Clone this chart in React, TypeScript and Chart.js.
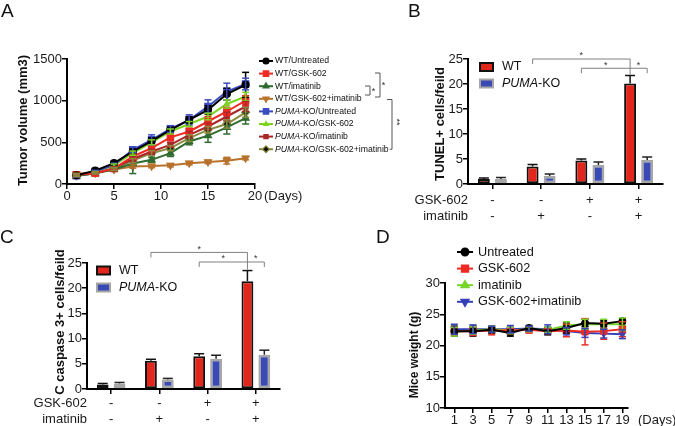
import React, { useEffect, useRef } from "react";
import { Chart, registerables } from "chart.js";
import { drawPoint } from "chart.js/helpers";

Chart.register(...registerables);

const W = 675;
const H = 426;
const FONT = "'Liberation Sans', Arial, Helvetica, sans-serif";
const XH = 46;

// ---------------- Panel A: tumor volume ----------------
const daysA = [1, 3, 5, 7, 9, 11, 13, 15, 17, 19];
const aNames = [
  "WT/Untreated",
  "WT/GSK-602",
  "WT/imatinib",
  "WT/GSK-602+imatinib",
  "PUMA-KO/Untreated",
  "PUMA-KO/GSK-602",
  "PUMA-KO/imatinib",
  "PUMA-KO/GSK-602+imatinib",
];
const aWTUntreated = [105, 160, 250, 390, 515, 650, 770, 890, 1080, 1190];
const aWTGsk = [110, 130, 185, 330, 430, 560, 630, 750, 870, 1000];
const aWTIma = [95, 130, 175, 245, 290, 370, 510, 580, 680, 790];
const aWTGskIma = [120, 140, 175, 210, 215, 225, 250, 265, 280, 310];
const aKOUntreated = [100, 150, 230, 410, 530, 660, 770, 930, 1110, 1200];
const aKOGsk = [105, 140, 225, 370, 500, 630, 720, 810, 960, 1050];
const aKOIma = [100, 130, 190, 300, 390, 470, 590, 690, 810, 930];
const aKOGskIma = [100, 130, 180, 280, 370, 430, 550, 650, 720, 860];
const aErrWTUntreated = [15, 15, 20, 30, 40, 40, 40, 50, 70, 150];
const aErrWTGsk = [10, 15, 20, 30, 40, 40, 40, 60, 50, 60];
const aErrWTIma = [10, 10, 15, 120, 30, 40, 40, 80, 80, 70];
const aErrWTGskIma = [10, 10, 10, 20, 20, 20, 20, 20, 40, 20];
const aErrKOUntreated = [15, 15, 20, 30, 60, 40, 60, 80, 100, 70];
const aErrKOGsk = [10, 10, 15, 25, 30, 30, 30, 40, 50, 50];
const aErrKOIma = [10, 10, 15, 25, 30, 30, 40, 40, 50, 60];
const aErrKOGskIma = [10, 10, 15, 25, 30, 30, 40, 40, 50, 60];
const aTicks = [0, 500, 1000, 1500];

// ---------------- Panel B: TUNEL ----------------
const gskRow = ["-", "-", "+", "+"];
const imaRow = ["-", "+", "-", "+"];
const bWT = [1.0, 3.5, 4.7, 20.1];
const bKO = [1.0, 1.6, 3.8, 4.8];
const bWTErr = [0.2, 0.4, 0.3, 1.6];
const bKOErr = [0.3, 0.4, 0.6, 0.6];

// ---------------- Panel C: cleaved caspase 3 ----------------
const cWT = [0.9, 5.6, 6.5, 21.4];
const cKO = [1.1, 1.9, 6.0, 6.8];
const cWTErr = [0.2, 0.3, 0.5, 2.1];
const cKOErr = [0.2, 0.2, 0.7, 0.9];

// ---------------- Panel D: mice weight ----------------
const daysD = [1, 3, 5, 7, 9, 11, 13, 15, 17, 19];
const dNames = ["Untreated", "GSK-602", "imatinib", "GSK-602+imatinib"];
const dUntreated = [22.3, 22.3, 22.5, 22.0, 22.8, 22.3, 22.8, 23.6, 23.5, 23.9];
const dGsk = [22.3, 22.3, 22.4, 22.4, 22.5, 22.3, 22.4, 22.2, 22.3, 22.6];
const dIma = [22.2, 22.4, 22.6, 22.4, 22.6, 22.5, 23.2, 23.4, 23.4, 23.4];
const dGskIma = [22.6, 22.6, 22.6, 22.6, 22.7, 22.6, 22.3, 22.0, 21.9, 21.8];
const dErrUntreated = [0.8, 0.8, 0.5, 0.5, 0.4, 0.6, 0.8, 0.6, 0.5, 0.4];
const dErrGsk = [0.6, 0.7, 0.7, 0.5, 0.5, 0.4, 1.0, 2.1, 1.3, 1.2];
const dErrIma = [0.7, 0.6, 0.5, 0.5, 0.4, 0.4, 0.6, 0.8, 0.8, 1.0];
const dErrGskIma = [0.8, 0.7, 0.5, 0.6, 0.4, 0.7, 0.6, 0.7, 0.7, 0.7];

// ---------------- helpers ----------------
type Part = { t: string; i?: boolean };
function parts(name: string): Part[] {
  if (name.startsWith("PUMA")) return [{ t: "PUMA", i: true }, { t: name.slice(4) }];
  return [{ t: name }];
}
function rich(ctx: any, ps: Part[], x: number, y: number, size: number, color = "#111") {
  let cx = x;
  ctx.fillStyle = color;
  ctx.textAlign = "left";
  ctx.textBaseline = "middle";
  for (const p of ps) {
    ctx.font = `${p.i ? "italic " : ""}${size}px ${FONT}`;
    ctx.fillText(p.t, cx, y);
    cx += ctx.measureText(p.t).width;
  }
  return cx;
}
function vText(ctx: any, t: string, x: number, y: number, font: string) {
  ctx.save();
  ctx.translate(x, y);
  ctx.rotate(-Math.PI / 2);
  ctx.font = font;
  ctx.fillStyle = "#111";
  ctx.textAlign = "center";
  ctx.textBaseline = "middle";
  ctx.fillText(t, 0, 0);
  ctx.restore();
}
function letter(ctx: any, t: string, x: number, y: number) {
  ctx.font = `19px ${FONT}`;
  ctx.fillStyle = "#111";
  ctx.textAlign = "left";
  ctx.textBaseline = "alphabetic";
  ctx.fillText(t, x, y);
}
function seg(ctx: any, x1: number, y1: number, x2: number, y2: number) {
  ctx.beginPath();
  ctx.moveTo(x1, y1);
  ctx.lineTo(x2, y2);
  ctx.stroke();
}
function star(ctx: any, t: string, x: number, y: number) {
  ctx.font = `9px ${FONT}`;
  ctx.fillStyle = "#333";
  ctx.textAlign = "center";
  ctx.textBaseline = "middle";
  ctx.fillText(t, x, y);
}

const errorBars = {
  id: "errorBars",
  afterDatasetsDraw(chart: any) {
    const ctx = chart.ctx;
    const ys = chart.scales.y;
    const isBar = chart.config.type === "bar";
    chart.data.datasets.forEach((ds: any, i: number) => {
      const errs = ds.errors;
      if (!errs) return;
      const meta = chart.getDatasetMeta(i);
      meta.data.forEach((el: any, j: number) => {
        const raw = ds.data[j];
        const v = typeof raw === "number" ? raw : raw.y;
        const e = errs[j];
        const top = ys.getPixelForValue(v + e);
        const bot = isBar ? el.y : ys.getPixelForValue(v - e);
        const cap = isBar ? 5 : 3.5;
        ctx.save();
        ctx.strokeStyle = ds.errorColor || ds.borderColor;
        ctx.lineWidth = 1.5;
        seg(ctx, el.x, top, el.x, bot);
        seg(ctx, el.x - cap, top, el.x + cap, top);
        if (!isBar) seg(ctx, el.x - cap, bot, el.x + cap, bot);
        ctx.restore();
      });
    });
  },
};

const plainNum = (v: any) => String(v);

function yAxis(min: number, max: number, step: number, pad = 0) {
  return {
    type: "linear",
    min,
    max,
    afterFit: (s: any) => {
      s.width = 40;
      s.paddingTop = 0;
      s.paddingBottom = 0;
    },
    ticks: { stepSize: step, font: { size: 13, family: FONT }, color: "#1a1a1a", padding: pad, callback: plainNum },
    grid: { drawOnChartArea: false, drawTicks: true, tickLength: 5, color: "#000", lineWidth: 1.5 },
    border: { display: true, color: "#000", width: 2 },
  };
}
function xBase(pad: number, numeric: boolean) {
  const ticks: any = {
    font: { size: 13, family: FONT, lineHeight: 1.2 },
    color: "#1a1a1a",
    padding: pad,
    autoSkip: false,
    maxRotation: 0,
    minRotation: 0,
  };
  if (numeric) ticks.callback = plainNum;
  return {
    afterFit: (s: any) => {
      s.height = XH;
      s.paddingLeft = 0;
      s.paddingRight = 0;
    },
    ticks,
    grid: { drawOnChartArea: false, drawTicks: true, tickLength: 5, color: "#000", lineWidth: 1.5, offset: false },
    border: { display: true, color: "#000", width: 2 },
  };
}
function area(l: number, t: number, r: number, b: number) {
  return { left: l - 40, top: t, right: W - r, bottom: H - b - XH };
}
const common = {
  responsive: false,
  animation: false,
  devicePixelRatio: 1,
  events: [],
};

// ---------------- Panel A config ----------------
const aStyles = [
  { c: "#000000", ps: "circle", r: 3.5, rot: 0, fill: "#000000" },
  { c: "#ee2a24", ps: "rect", r: 4.5, rot: 0, fill: "#ee2a24" },
  { c: "#2f6b2f", ps: "triangle", r: 4, rot: 0, fill: "#2f6b2f" },
  { c: "#b8722c", ps: "triangle", r: 4, rot: 180, fill: "#b8722c" },
  { c: "#3b4cc0", ps: "rect", r: 4.5, rot: 0, fill: "#3b4cc0" },
  { c: "#7ed321", ps: "triangle", r: 3, rot: 0, fill: "#7ed321" },
  { c: "#a82828", ps: "rect", r: 3.5, rot: 0, fill: "#a82828" },
  { c: "#8a8a40", ps: "rectRot", r: 4, rot: 0, fill: "#111111" },
];
const aValues = [aWTUntreated, aWTGsk, aWTIma, aWTGskIma, aKOUntreated, aKOGsk, aKOIma, aKOGskIma];
const aErrs = [aErrWTUntreated, aErrWTGsk, aErrWTIma, aErrWTGskIma, aErrKOUntreated, aErrKOGsk, aErrKOIma, aErrKOGskIma];

const panelAExtras = {
  id: "panelAExtras",
  afterDraw(chart: any) {
    const ctx = chart.ctx;
    const ca = chart.chartArea;
    const xs = chart.scales.x;
    ctx.save();
    letter(ctx, "A", 1, 17);
    vText(ctx, "Tumor volume (mm3)", 23, (ca.top + ca.bottom) / 2 - 1, `bold 13px ${FONT}`);
    ctx.font = `13px ${FONT}`;
    ctx.fillStyle = "#1a1a1a";
    ctx.textAlign = "left";
    ctx.textBaseline = "middle";
    ctx.fillText("(Days)", 264, xs.top + 5 + 7.8);
    // legend
    const rows: number[] = [];
    let lastEnd = 0;
    aNames.forEach((n, i) => {
      const y = 61 + i * 12.6;
      rows.push(y);
      const s = aStyles[i];
      ctx.strokeStyle = s.c;
      ctx.lineWidth = 2;
      seg(ctx, 259, y, 273, y);
      ctx.fillStyle = s.fill;
      ctx.strokeStyle = s.c;
      ctx.lineWidth = 1.2;
      drawPoint(ctx, { pointStyle: s.ps, rotation: s.rot, radius: s.r * 0.85, borderWidth: 1.2 }, 266, y);
      lastEnd = rich(ctx, parts(n), 275, y, 8.7, "#111");
    });
    // significance brackets
    ctx.strokeStyle = "#555";
    ctx.lineWidth = 1;
    seg(ctx, 365, 86, 370, 86);
    seg(ctx, 370, 86, 370, 95);
    seg(ctx, 365, 95, 370, 95);
    star(ctx, "*", 373.5, 92);
    seg(ctx, 375, 73, 380, 73);
    seg(ctx, 380, 73, 380, 97);
    seg(ctx, 375, 97, 380, 97);
    star(ctx, "*", 383.5, 86);
    seg(ctx, 387, 99.5, 392, 99.5);
    seg(ctx, 392, 99.5, 392, rows[7]);
    seg(ctx, lastEnd + 1, rows[7], 392, rows[7]);
    ctx.save();
    ctx.translate(396, 122);
    ctx.rotate(Math.PI / 2);
    star(ctx, "**", 0, 0);
    ctx.restore();
    ctx.restore();
  },
};

function configA(): any {
  return {
    type: "line",
    data: {
      datasets: aNames.map((n, i) => ({
        label: n,
        data: daysA.map((d, j) => ({ x: d, y: aValues[i][j] })),
        errors: aErrs[i],
        borderColor: aStyles[i].c,
        backgroundColor: aStyles[i].fill,
        pointBorderColor: aStyles[i].c,
        pointBackgroundColor: aStyles[i].fill,
        pointStyle: aStyles[i].ps,
        pointRotation: aStyles[i].rot,
        pointRadius: aStyles[i].r,
        pointBorderWidth: 1.2,
        borderWidth: 2,
        tension: 0,
      })),
    },
    options: {
      ...common,
      layout: { padding: area(67, 59, 255, 184) },
      plugins: { legend: { display: false }, tooltip: { enabled: false } },
      scales: {
        x: { ...xBase(0, true), type: "linear", min: 0, max: 20, ticks: { ...xBase(0, true).ticks, stepSize: 5 } },
        y: {
          ...yAxis(0, 1500, 500),
          afterBuildTicks: (s: any) => {
            s.ticks = aTicks.map((v) => ({ value: v }));
          },
        },
      },
    },
    plugins: [errorBars, panelAExtras],
  };
}

// ---------------- Panel B / C config ----------------
function barExtras(o: {
  letter: string;
  lx: number;
  ly: number;
  title: string;
  tx: number;
  ty: number;
  legX: number;
  legY: number[];
  rowPad: number;
  levels: number[];
}) {
  return {
    id: "barExtras",
    afterDraw(chart: any) {
      const ctx = chart.ctx;
      const ca = chart.chartArea;
      const xs = chart.scales.x;
      const ys = chart.scales.y;
      ctx.save();
      letter(ctx, o.letter, o.lx, o.ly);
      vText(ctx, o.title, o.tx, o.ty, `bold 13px ${FONT}`);
      const r0 = xs.top + 5 + o.rowPad + 7.8;
      ctx.font = `13px ${FONT}`;
      ctx.fillStyle = "#1a1a1a";
      ctx.textAlign = "right";
      ctx.textBaseline = "middle";
      ctx.fillText("GSK-602", ca.left, r0);
      ctx.fillText("imatinib", ca.left, r0 + 15.6);
      const ds = chart.data.datasets;
      ds.forEach((d: any, i: number) => {
        const y = o.legY[i];
        ctx.fillStyle = d.backgroundColor;
        ctx.fillRect(o.legX, y - 4, 13, 8);
        ctx.strokeStyle = d.borderColor;
        ctx.lineWidth = 2;
        ctx.strokeRect(o.legX, y - 4, 13, 8);
        rich(ctx, parts(d.label), o.legX + 22, y, 12.5, "#111");
      });
      const wt = chart.getDatasetMeta(0).data;
      const ko = chart.getDatasetMeta(1).data;
      const y1 = ys.getPixelForValue(o.levels[0]);
      const y2 = ys.getPixelForValue(o.levels[1]);
      const errTop = ys.getPixelForValue(ds[0].data[3] + ds[0].errors[3]);
      ctx.strokeStyle = "#808080";
      ctx.lineWidth = 1;
      seg(ctx, wt[1].x, y1 + 5, wt[1].x, y1);
      seg(ctx, wt[1].x, y1, wt[3].x, y1);
      seg(ctx, wt[3].x, y1, wt[3].x, errTop - 1);
      seg(ctx, wt[2].x, y2 + 5, wt[2].x, y2);
      seg(ctx, wt[2].x, y2, ko[3].x, y2);
      seg(ctx, ko[3].x, y2, ko[3].x, y2 + 5);
      star(ctx, "*", (wt[1].x + wt[3].x) / 2, y1 - 3);
      star(ctx, "*", (wt[2].x + wt[3].x) / 2, y2 - 3);
      star(ctx, "*", (wt[3].x + ko[3].x) / 2, y2 - 3);
      ctx.restore();
    },
  };
}

function configBar(
  wtv: number[],
  kov: number[],
  wte: number[],
  koe: number[],
  box: number[],
  rowPad: number,
  extras: any
): any {
  return {
    type: "bar",
    data: {
      labels: gskRow.map((g, i) => [g, imaRow[i]]),
      datasets: [
        {
          label: "WT",
          data: wtv,
          errors: wte,
          errorColor: "#111",
          backgroundColor: "#e3261b",
          borderColor: "#111111",
          borderWidth: 2,
          borderSkipped: false,
          categoryPercentage: 0.7,
          barPercentage: 0.7,
        },
        {
          label: "PUMA-KO",
          data: kov,
          errors: koe,
          errorColor: "#222",
          backgroundColor: "#3a4ab4",
          borderColor: "#a6a6a6",
          borderWidth: 2.5,
          borderSkipped: false,
          categoryPercentage: 0.7,
          barPercentage: 0.7,
        },
      ],
    },
    options: {
      ...common,
      layout: { padding: area(box[0], box[1], box[2], box[3]) },
      plugins: { legend: { display: false }, tooltip: { enabled: false } },
      scales: {
        x: { ...xBase(rowPad, false), type: "category", offset: true },
        y: yAxis(0, 25, 5),
      },
    },
    plugins: [errorBars, extras],
  };
}

// ---------------- Panel D config ----------------
const dStyles = [
  { c: "#000000", ps: "circle", r: 3.5, rot: 0 },
  { c: "#ee2a24", ps: "rect", r: 4.5, rot: 0 },
  { c: "#77d42a", ps: "triangle", r: 4, rot: 0 },
  { c: "#3340b8", ps: "triangle", r: 4, rot: 180 },
];
const dValues = [dUntreated, dGsk, dIma, dGskIma];
const dErrs = [dErrUntreated, dErrGsk, dErrIma, dErrGskIma];

const panelDExtras = {
  id: "panelDExtras",
  afterDraw(chart: any) {
    const ctx = chart.ctx;
    const xs = chart.scales.x;
    ctx.save();
    letter(ctx, "D", 376, 243);
    vText(ctx, "Mice weight (g)", 415, 355, `bold 12px ${FONT}`);
    ctx.font = `13px ${FONT}`;
    ctx.fillStyle = "#1a1a1a";
    ctx.textAlign = "left";
    ctx.textBaseline = "middle";
    ctx.fillText("(Days)", 638, xs.top + 5 + 7.8);
    dNames.forEach((n, i) => {
      const y = 252 + i * 16.6;
      const s = dStyles[i];
      ctx.strokeStyle = s.c;
      ctx.lineWidth = 2;
      seg(ctx, 457, y, 473, y);
      ctx.fillStyle = s.c;
      drawPoint(ctx, { pointStyle: s.ps, rotation: s.rot, radius: s.r, borderWidth: 1 }, 465, y);
      rich(ctx, parts(n), 478, y, 12.7, "#111");
    });
    ctx.restore();
  },
};

function configD(): any {
  return {
    type: "line",
    data: {
      datasets: dNames.map((n, i) => ({
        label: n,
        data: daysD.map((d, j) => ({ x: d, y: dValues[i][j] })),
        errors: dErrs[i],
        borderColor: dStyles[i].c,
        backgroundColor: dStyles[i].c,
        pointStyle: dStyles[i].ps,
        pointRotation: dStyles[i].rot,
        pointRadius: dStyles[i].r,
        pointBorderWidth: 1,
        borderWidth: 2,
        tension: 0,
      })),
    },
    options: {
      ...common,
      layout: { padding: area(445, 283, 628, 408) },
      plugins: { legend: { display: false }, tooltip: { enabled: false } },
      scales: {
        x: {
          ...xBase(0, true),
          type: "linear",
          min: 0,
          max: 19.6,
          afterBuildTicks: (s: any) => {
            s.ticks = daysD.map((v) => ({ value: v }));
          },
        },
        y: yAxis(10, 30, 5),
      },
    },
    plugins: [errorBars, panelDExtras],
  };
}

export default function App() {
  const refA = useRef<HTMLCanvasElement>(null);
  const refB = useRef<HTMLCanvasElement>(null);
  const refC = useRef<HTMLCanvasElement>(null);
  const refD = useRef<HTMLCanvasElement>(null);

  useEffect(() => {
    document.body.style.margin = "0";
    Chart.defaults.font.family = FONT;
    const bExtras = barExtras({
      letter: "B",
      lx: 408,
      ly: 17,
      title: "TUNEL+ cells/feild",
      tx: 440,
      ty: 124,
      legX: 480,
      legY: [67, 83.5],
      rowPad: 4,
      levels: [25, 23.15],
    });
    const cExtras = barExtras({
      letter: "C",
      lx: 0,
      ly: 243,
      title: "C caspase 3+ cells/feild",
      tx: 60,
      ty: 322,
      legX: 97,
      legY: [270.5, 287.5],
      rowPad: 2,
      levels: [27.1, 25.2],
    });
    const charts = [
      new Chart(refA.current as HTMLCanvasElement, configA()),
      new Chart(refB.current as HTMLCanvasElement, configBar(bWT, bKO, bWTErr, bKOErr, [468, 59, 663, 184], 4, bExtras)),
      new Chart(refC.current as HTMLCanvasElement, configBar(cWT, cKO, cWTErr, cKOErr, [87, 263, 280, 389], 2, cExtras)),
      new Chart(refD.current as HTMLCanvasElement, configD()),
    ];
    return () => charts.forEach((c) => c.destroy());
  }, []);

  const cs: React.CSSProperties = { position: "absolute", left: 0, top: 0, width: W, height: H };
  return (
    <div style={{ position: "absolute", left: 0, top: 0, width: W, height: H, background: "#fff", overflow: "hidden" }}>
      <canvas ref={refA} width={W} height={H} style={cs} />
      <canvas ref={refB} width={W} height={H} style={cs} />
      <canvas ref={refC} width={W} height={H} style={cs} />
      <canvas ref={refD} width={W} height={H} style={cs} />
    </div>
  );
}
